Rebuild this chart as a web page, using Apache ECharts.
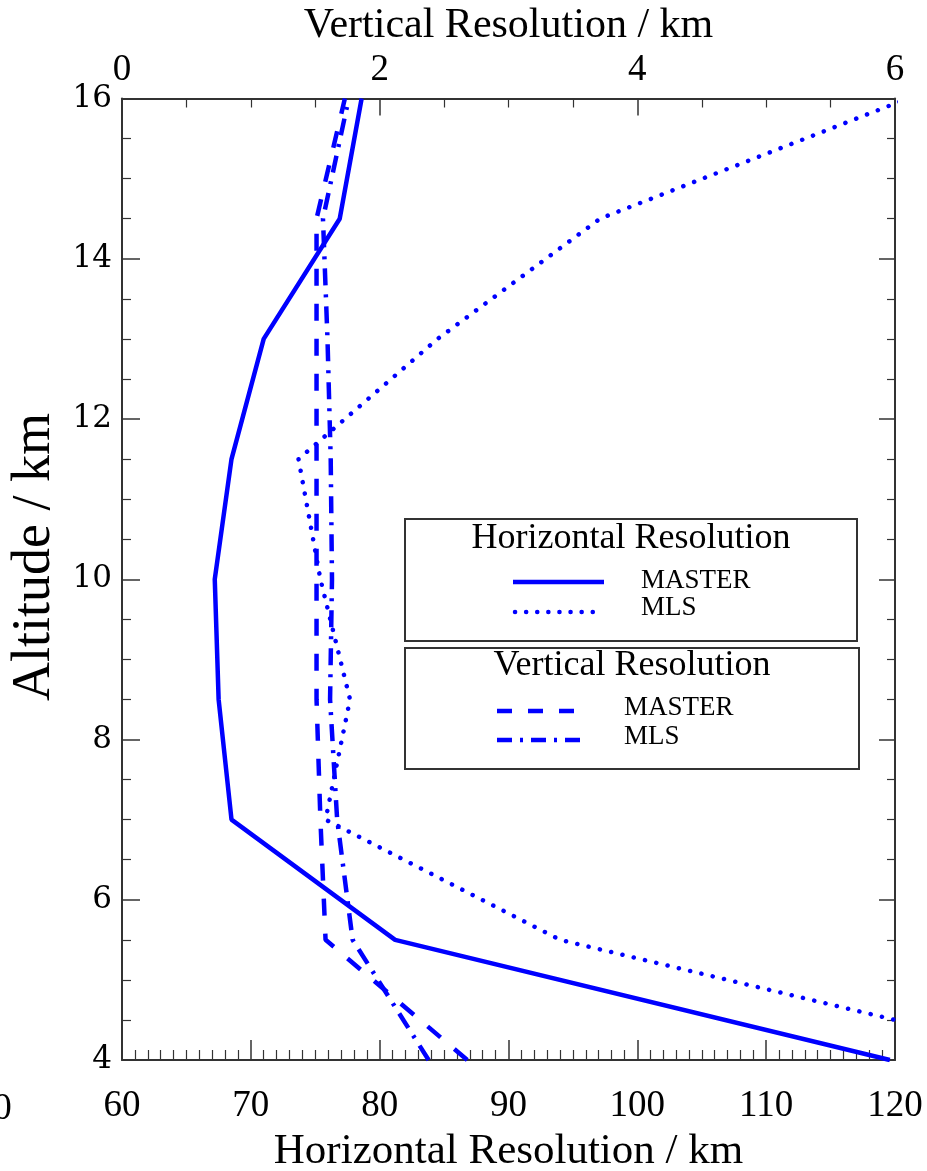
<!DOCTYPE html>
<html>
<head>
<meta charset="utf-8">
<title>Horizontal and Vertical Resolution</title>
<script src="https://cdn.jsdelivr.net/npm/echarts@6/dist/echarts.min.js"></script>
<style>
  html, body { margin: 0; padding: 0; background: #ffffff; }
  #chart { width: 927px; height: 1171px; }
</style>
</head>
<body>
<div id="chart"></div>
<script>
// Altitude levels (km) shared by all four profiles
const altitudes = [4, 5.5, 7, 8.5, 10, 11.5, 13, 14.5, 16];
// Horizontal resolution (km), bottom axis
const horizMaster = [119.6, 81.2, 68.5, 67.5, 67.2, 68.5, 71.0, 76.9, 78.6];
const horizMLS = [133, 94.0, 75.8, 77.7, 75.4, 73.7, 84.5, 97.1, 121];
// Vertical resolution (km), top axis
const vertMaster = [2.68, 1.58, 1.54, 1.51, 1.51, 1.51, 1.51, 1.51, 1.73];
const vertMLS = [2.38, 1.79, 1.67, 1.615, 1.63, 1.62, 1.595, 1.56, 1.76];

// Axis ranges and tick labels
const hRange = [60, 120];
const hTicks = [60, 70, 80, 90, 100, 110, 120];
const vRange = [0, 6];
const vTicks = [0, 2, 4, 6];
const altRange = [4, 16];
const altTicks = [4, 6, 8, 10, 12, 14, 16];

const BLUE = '#0000ff';
const FRAME = '#333333';
const SERIF = "'Liberation Serif', 'Times New Roman', serif";
const SERIF2 = "'DejaVu Serif', serif";

function pairs(xs, ys) { return xs.map((x, i) => [x, ys[i]]); }

const chart = echarts.init(document.getElementById('chart'), null, { renderer: 'canvas' });

const frameLine = { show: true, lineStyle: { color: FRAME, width: 2 } };

const option = {
  animation: false,
  backgroundColor: '#ffffff',
  grid: { left: 122, right: 32, top: 98.5, bottom: 111, containLabel: false, outerBoundsMode: 'none' },
  xAxis: [
    {
      type: 'value', position: 'bottom',
      min: hRange[0], max: hRange[1], interval: 10,
      name: 'Horizontal Resolution / km', nameLocation: 'middle', nameGap: 70,
      nameTextStyle: { fontFamily: SERIF, fontSize: 43, color: '#000' },
      axisLine: frameLine,
      axisTick: { show: true, inside: true, length: 20, lineStyle: { color: FRAME, width: 1.5 } },
      minorTick: { show: true, splitNumber: 10, length: 10, lineStyle: { color: FRAME, width: 1.2 } },
      axisLabel: {
        fontFamily: SERIF, fontSize: 37, color: '#000', margin: 28,
        formatter: v => hTicks.includes(v) ? String(v) : ''
      },
      splitLine: { show: false }
    },
    {
      type: 'value', position: 'top',
      min: vRange[0], max: vRange[1], interval: 2,
      name: 'Vertical Resolution / km', nameLocation: 'middle', nameGap: 46,
      nameTextStyle: { fontFamily: SERIF, fontSize: 42, color: '#000' },
      axisLine: frameLine,
      axisTick: { show: true, inside: true, length: 17, lineStyle: { color: FRAME, width: 1.5 } },
      minorTick: { show: true, splitNumber: 4, length: 9, lineStyle: { color: FRAME, width: 1.2 } },
      axisLabel: {
        fontFamily: SERIF, fontSize: 37, color: '#000', margin: 10,
        formatter: v => vTicks.includes(v) ? String(v) : ''
      },
      splitLine: { show: false }
    }
  ],
  yAxis: [
    {
      type: 'value', position: 'left',
      min: altRange[0], max: altRange[1], interval: 2,
      axisLine: frameLine,
      axisTick: { show: true, inside: true, length: 18, lineStyle: { color: FRAME, width: 1.5 } },
      minorTick: { show: true, splitNumber: 4, length: 9, lineStyle: { color: FRAME, width: 1.2 } },
      axisLabel: {
        fontFamily: SERIF2, fontSize: 31, color: '#000', margin: 10,
        formatter: v => altTicks.includes(v) ? String(v) : ''
      },
      splitLine: { show: false }
    },
    {
      type: 'value', position: 'right',
      min: altRange[0], max: altRange[1], interval: 2,
      axisLine: frameLine,
      axisTick: { show: true, inside: true, length: 16, lineStyle: { color: FRAME, width: 1.5 } },
      minorTick: { show: true, splitNumber: 4, length: 8, lineStyle: { color: FRAME, width: 1.2 } },
      axisLabel: { show: false },
      splitLine: { show: false }
    }
  ],
  series: [
    {
      name: 'Horizontal MASTER', type: 'line', xAxisIndex: 0, yAxisIndex: 0,
      data: pairs(horizMaster, altitudes), showSymbol: false, symbol: 'none', clip: true,
      lineStyle: { color: BLUE, width: 4.5, type: 'solid' }
    },
    {
      name: 'Horizontal MLS', type: 'line', xAxisIndex: 0, yAxisIndex: 0,
      data: pairs(horizMLS, altitudes), showSymbol: false, symbol: 'none', clip: true,
      lineStyle: { color: BLUE, width: 4.5, type: [0.1, 11.5], cap: 'round' }
    },
    {
      name: 'Vertical MASTER', type: 'line', xAxisIndex: 1, yAxisIndex: 0,
      data: pairs(vertMaster, altitudes), showSymbol: false, symbol: 'none', clip: true,
      lineStyle: { color: BLUE, width: 4.5, type: [17, 18], cap: 'butt' }
    },
    {
      name: 'Vertical MLS', type: 'line', xAxisIndex: 1, yAxisIndex: 0,
      data: pairs(vertMLS, altitudes), showSymbol: false, symbol: 'none', clip: true,
      lineStyle: { color: BLUE, width: 4.5, type: [17, 9, 3, 9], cap: 'butt' }
    }
  ]
};

chart.setOption(option);

// Left axis title, the partly visible "50" label and the two legend boxes
const fiftyX = chart.convertToPixel({ xAxisIndex: 0 }, 50);
const tickY = chart.convertToPixel({ yAxisIndex: 0 }, altRange[0]);

function sampleLine(x1, x2, y, dash, cap) {
  return {
    type: 'line', silent: true,
    shape: { x1: x1, y1: y, x2: x2, y2: y },
    style: { stroke: BLUE, lineWidth: 4.5, lineDash: dash, lineCap: cap }
  };
}
function label(text, x, y, size, align) {
  return {
    type: 'text', silent: true, x: x, y: y,
    style: { text: text, fontFamily: SERIF, fontSize: size, fill: '#000', align: align, verticalAlign: 'middle' }
  };
}

chart.setOption({
  graphic: [
    {
      type: 'text', silent: true, x: 35, y: 557, rotation: Math.PI / 2,
      style: { text: 'Altitude / km', fontFamily: SERIF, fontSize: 54, fill: '#000', align: 'center', verticalAlign: 'middle' }
    },
    {
      type: 'text', silent: true, x: fiftyX, y: tickY + 49,
      style: { text: '50', fontFamily: SERIF, fontSize: 37, fill: '#000', align: 'center', verticalAlign: 'middle' }
    },
    {
      type: 'rect', silent: true, shape: { x: 405, y: 519, width: 452, height: 122 },
      style: { fill: '#ffffff', stroke: FRAME, lineWidth: 2 }
    },
    {
      type: 'rect', silent: true, shape: { x: 405, y: 648, width: 454, height: 121 },
      style: { fill: '#ffffff', stroke: FRAME, lineWidth: 2 }
    },
    label('Horizontal Resolution', 631, 539, 36, 'center'),
    sampleLine(513, 604, 582, null, 'butt'),
    label('MASTER', 641, 581, 27, 'left'),
    sampleLine(515, 603, 612, [0.1, 11], 'round'),
    label('MLS', 641, 608, 27, 'left'),
    label('Vertical Resolution', 632, 666, 36, 'center'),
    sampleLine(497, 574, 711, [15, 16], 'butt'),
    label('MASTER', 624, 708, 27, 'left'),
    sampleLine(497, 582, 740, [15, 8, 3, 8], 'butt'),
    label('MLS', 624, 737, 27, 'left')
  ]
});
</script>
</body>
</html>
